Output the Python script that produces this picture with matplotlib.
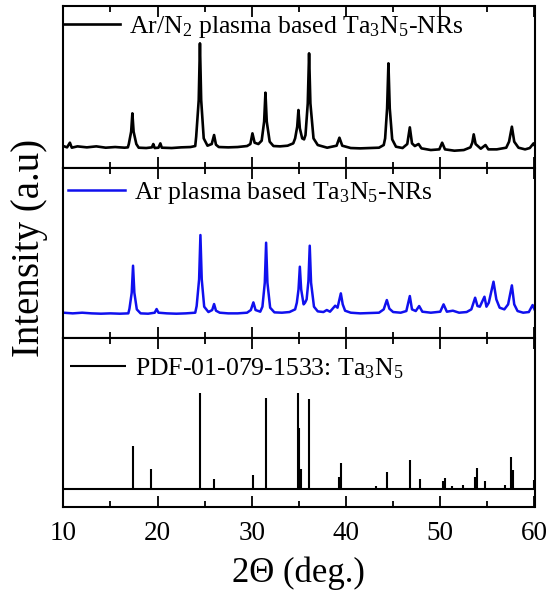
import matplotlib
matplotlib.use("Agg")
import matplotlib.pyplot as plt
from matplotlib.ticker import MultipleLocator

plt.rcParams['font.family'] = ['Liberation Serif', 'DejaVu Serif']
plt.rcParams['mathtext.fontset'] = 'custom'
plt.rcParams['mathtext.rm'] = 'Liberation Serif'
plt.rcParams['mathtext.it'] = 'Liberation Serif:italic'
plt.rcParams['mathtext.default'] = 'regular'

# ---------------- data ----------------
labels = ["Ar/N$_2$ plasma based Ta$_3$N$_5$-NRs",
          "Ar plasma based Ta$_3$N$_5$-NRs",
          "PDF-01-079-1533: Ta$_3$N$_5$"]

arn2_x = [10.0, 10.4, 10.7, 10.9, 11.5, 12.5, 13.5, 14.5, 15.5, 16.5, 16.85,
          16.95, 17.2, 17.33, 17.46, 17.75,
          18.0, 18.8, 19.4, 19.55, 19.7, 20.1, 20.3, 20.45, 21.5, 22.5, 23.5, 24.0,
          24.1, 24.37, 24.5, 24.63, 24.9,
          25.3, 25.75, 26.0, 26.2, 26.5, 27.5, 28.5, 29.5, 29.85, 30.07, 30.3, 30.7,
          31.05, 31.31, 31.45, 31.59, 31.9,
          32.3, 33.0, 33.8, 34.4,
          34.6, 34.82, 34.95, 35.1, 35.35, 35.55,
          35.7, 35.94, 36.08, 36.22, 36.55,
          37.0, 38.0, 39.0, 39.3, 39.6, 40.5, 41.5, 42.5, 43.5, 44.0,
          44.15, 44.36, 44.5, 44.64, 44.9,
          45.3, 46.0, 46.5, 46.77, 47.0, 47.3, 47.7, 48.0, 49.0, 49.9, 50.2, 50.5,
          51.5, 52.5, 53.2, 53.4, 53.55, 53.75, 54.3, 54.8, 55.1, 56.0, 57.0, 57.3,
          57.6, 57.85, 58.3, 59.0, 59.5, 59.9, 60.0]
arn2_y = [2, -2, 12, -3, 1, -2, 1, -3, -1, -3, -2,
          8, 45, 100, 45, 8,
          -3, -4, -2, 8, -4, -3, 10, -3, -4, -2, -1, 2,
          30, 140, 310, 140, 25,
          3, 8, 35, 6, -1, -2, -1, 2, 8, 40, 12, 8,
          18, 75, 162, 75, 15,
          2, 1, 3, 10,
          25, 60, 110, 55, 25, 22,
          35, 130, 280, 130, 25,
          5, -3, 3, 27, 3, -4, -5, -4, -3, 5,
          25, 115, 250, 115, 22,
          0, -4, 8, 58, 10, 2, 8, -5, -10, -8, 12, -8,
          -12, -10, -2, 12, 37, 8, -6, 5, -8, -8, -3, 15,
          60, 15, -3, -8, -4, 10, 5]

ar_x = [10.0, 11.0, 12.0, 13.0, 14.0, 15.0, 16.0, 16.9,
        17.02, 17.26, 17.4, 17.54, 17.8,
        18.2, 19.0, 19.7, 19.9, 20.1, 21.0, 22.0, 23.0, 24.0,
        24.15, 24.41, 24.55, 24.69, 24.95,
        25.4, 25.8, 26.0, 26.2, 26.6, 27.5, 28.5, 29.5, 29.9, 30.17, 30.4, 30.9,
        31.13, 31.38, 31.52, 31.66, 31.95,
        32.4, 33.2, 34.0, 34.6,
        34.78, 34.96, 35.1, 35.24, 35.5, 35.65,
        35.82, 36.01, 36.15, 36.29, 36.6,
        37.0, 37.6, 37.96, 38.3, 38.85, 39.1, 39.45, 39.65, 39.9, 40.5, 41.5, 42.5,
        43.5, 44.0, 44.33, 44.6, 45.0, 45.8, 46.4, 46.77, 47.0, 47.4, 47.76, 48.1,
        49.0, 50.0, 50.35, 50.7, 51.34, 52.0, 52.8, 53.3, 53.7, 53.95, 54.2, 54.69,
        54.9, 55.15, 55.65, 55.95, 56.3, 56.8, 57.2, 57.6, 57.85, 58.2, 58.8, 59.4,
        59.8, 60.0]
ar_y = [0, -2, 0, -2, -3, -2, -3, -2,
        12, 60, 141, 60, 10,
        -2, -3, 0, 11, 0, -2, -3, -2, 0,
        20, 100, 233, 100, 18,
        2, 8, 26, 6, 0, -2, -2, 0, 8, 31, 8, 3,
        18, 90, 210, 90, 15,
        1, 0, 2, 10,
        30, 70, 138, 70, 25, 30,
        40, 95, 201, 90, 18,
        4, 2, 8, 3, 21, 15, 58, 25, 6, 0, -2, -1,
        0, 10, 38, 12, 2, 0, 5, 50, 10, 5, 20, 3,
        0, 3, 25, 3, 6, 0, 2, 10, 45, 20, 18, 48,
        18, 30, 93, 40, 15, 10, 25, 82, 25, 5, 0, 2,
        23, 10]

pdf_pos = [17.37, 19.35, 24.55, 26.0, 30.17, 31.52, 34.92, 35.06, 35.2, 36.12,
           39.3, 39.45, 43.2, 44.33, 46.77, 47.8, 50.34, 50.45, 51.23, 52.4,
           53.67, 53.85, 54.77, 56.9, 57.53, 57.67, 59.9]
pdf_int = [129, 59, 287, 30, 42, 272, 287, 182, 59, 269,
           35, 77, 7, 49, 85, 29, 22, 32, 9, 10,
           35, 62, 24, 12, 95, 57, 27]

x_ticks = [10, 20, 30, 40, 50, 60]
x_label = "2\u0398 (deg.)"
y_label = "Intensity (a.u)"

# ---------------- figure ----------------
W, H = 553, 590
fig = plt.figure(figsize=(W / 100, H / 100), dpi=100)
left = 63.3 / W
width = (534.5 - 63.3) / W
bounds = [(6.0, 167.7), (167.7, 337.7), (337.7, 506.7)]
axes = []
for (t, b) in bounds:
    ax = fig.add_axes([left, 1 - b / H, width, (b - t) / H])
    axes.append(ax)

ylims = [(-63, 422), (-75, 435), (-54, 454)]

axes[0].plot(arn2_x, arn2_y, color='black', lw=1.9, label=labels[0])
axes[1].plot(ar_x, ar_y, color='#1010ee', lw=1.8, label=labels[1])
axes[2].vlines(pdf_pos, 0, pdf_int, color='black', lw=1.5, label=labels[2])
axes[2].axhline(0, color='black', lw=1.5)

leg_x = [0.0, 0.010, 0.014]
leg_dy = [21, 25.5, 31]
for i, ax in enumerate(axes):
    ax.set_xlim(10, 60)
    ax.set_ylim(*ylims[i])
    ax.set_yticks([])
    ax.xaxis.set_major_locator(MultipleLocator(10))
    ax.xaxis.set_minor_locator(MultipleLocator(5))
    ax.tick_params(axis='x', which='both', direction='in', top=True, bottom=True,
                   width=1.3)
    ax.tick_params(axis='x', which='major', length=8)
    ax.tick_params(axis='x', which='minor', length=4.5)
    for s in ax.spines.values():
        s.set_linewidth(1.5)
    if i < 2:
        ax.tick_params(axis='x', labelbottom=False)
    ax.legend(loc='center left',
              bbox_to_anchor=(leg_x[i], 1 - leg_dy[i] / (bounds[i][1] - bounds[i][0])),
              frameon=False, fontsize=18.5, handlelength=2.2,
              handletextpad=0.35, borderaxespad=0, borderpad=0)

axes[2].set_xticks(x_ticks)
axes[2].set_xticklabels([str(v) for v in x_ticks])
axes[2].tick_params(axis='x', labelsize=19.5, pad=10)
axes[2].set_xlabel(x_label, fontsize=25, labelpad=8)

fig.text(30 / W, 1 - 248 / H, y_label, rotation=90, fontsize=28,
         ha='center', va='center')

fig.savefig("out.png", dpi=100)
